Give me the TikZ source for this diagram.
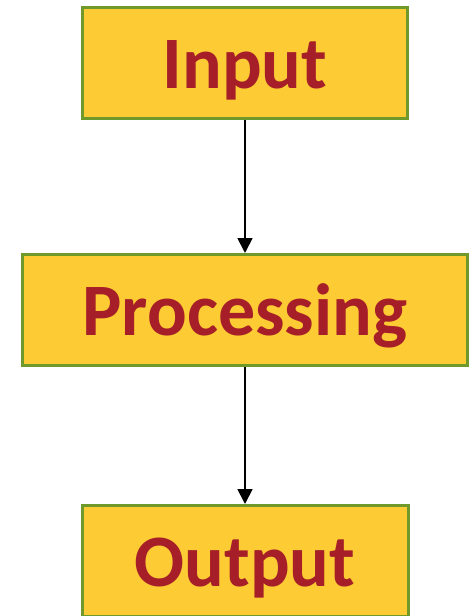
\documentclass[tikz,border=0pt]{standalone}
\usepackage{fontspec}
\setmainfont{Carlito}
\usepackage{xcolor}
\usetikzlibrary{arrows.meta}
\definecolor{boxfill}{HTML}{FDCB33}
\definecolor{boxline}{HTML}{6F9A2B}
\definecolor{boxtext}{HTML}{A61F28}

\begin{document}
\begin{tikzpicture}[x=1pt,y=-1pt,
        block/.style={rectangle,draw=boxline,fill=boxfill,line width=3pt,minimum height=111pt,
            text=boxtext,font=\fontsize{74}{80}\selectfont\bfseries,inner sep=0pt,
            text height=60pt,text depth=10pt},
        flow/.style={line width=1.8pt,-{Triangle[length=15pt,width=15pt]}}]
            \useasboundingbox (0,0) rectangle (470,616);
            \node (in) at (245,63) [block,minimum width=325pt] {Input};
            \node (proc) at (245,310) [block,minimum width=445pt] {Processing};
            \node (out) at (245,561) [block,minimum width=326pt] {Output};
            \draw[flow] (in) -- (proc);
            \draw[flow] (proc) -- (out);
        \end{tikzpicture}
\end{document}
